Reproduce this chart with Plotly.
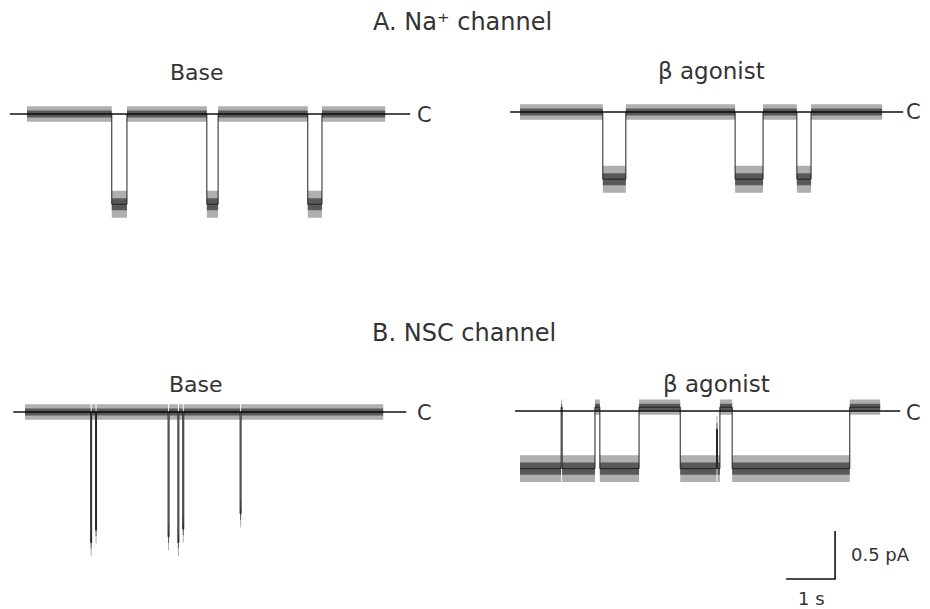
import plotly.graph_objects as go

# ---------------- data (time in s from trace start, current in pA) ----------------
# A. Na+ channel - Base : open intervals
na_base_open_start = [1.73, 3.67, 5.73]
na_base_open_end = [2.04, 3.90, 6.02]
na_base_amp = -0.94
na_base_len = 7.31

# A. Na+ channel - beta agonist
na_beta_open_start = [1.69, 4.39, 5.65]
na_beta_open_end = [2.16, 4.96, 5.94]
na_beta_amp = -0.70
na_beta_len = 7.39

# B. NSC channel - Base : brief openings
nsc_base_spike_t = [1.34, 1.44, 2.92, 3.12, 3.22, 4.39]
nsc_base_spike_amp = [-1.36, -1.23, -1.30, -1.36, -1.22, -1.06]
nsc_base_spike_dur = 0.02
nsc_base_len = 7.31

# B. NSC channel - beta agonist : state change times and level in each interval
nsc_beta_edges = [0, 0.84, 0.86, 1.53, 1.63, 2.43, 3.27, 4.01, 4.03, 4.08, 4.33, 6.73, 7.35]
nsc_beta_level = [-0.60, 0.04, -0.60, 0.04, -0.60, 0.04, -0.60, -0.19, -0.60, 0.04, -0.60, 0.04]

closed_noise = 0.08   # pA, half width of closed-state noise
open_noise = 0.14     # pA, half width of open-state noise

scale_time = 1.0      # s
scale_current = 0.5   # pA

# ---------------- layout helpers ----------------
OFF = 8                 # page body margin offset (px)
W, H = 930 - OFF, 609 - OFF
PX_PER_S = 49.0
PX_PER_PA = 96.0
TXT = "#333333"
FONT = "DejaVu Sans"


def xdom(a, b):
    return [(a - OFF) / W, (b - OFF) / W]


def ydom(top, bot):
    return [1 - (bot - OFF) / H, 1 - (top - OFF) / H]


# panel boxes (screen pixels): x0, x1, trace start px, y top, y bottom, closed level px
panels = [
    (8, 465, 27, 50, 300, 114),
    (465, 930, 520, 50, 300, 112),
    (8, 465, 25, 360, 609, 412),
    (465, 930, 520, 360, 609, 411),
]


def intervals_to_edges(starts, ends, total, amp):
    edges, levels = [0.0], []
    for s, e in zip(starts, ends):
        edges += [s, e]
        levels += [0.0, amp]
    edges.append(total)
    levels.append(0.0)
    return edges, levels


def spikes_to_edges(times, amps, dur, total):
    edges, levels = [0.0], []
    for t, a in zip(times, amps):
        edges += [t, t + dur]
        levels += [0.0, a]
    edges.append(total)
    levels.append(0.0)
    return edges, levels


def step(edges, levels):
    x, y = [], []
    for i, L in enumerate(levels):
        x += [edges[i], edges[i + 1]]
        y += [L, L]
    return x, y


def noise_of(L):
    return closed_noise if abs(L) < 0.1 else open_noise


traces_data = [
    intervals_to_edges(na_base_open_start, na_base_open_end, na_base_len, na_base_amp),
    intervals_to_edges(na_beta_open_start, na_beta_open_end, na_beta_len, na_beta_amp),
    spikes_to_edges(nsc_base_spike_t, nsc_base_spike_amp, nsc_base_spike_dur, nsc_base_len),
    (nsc_beta_edges, nsc_beta_level),
]

baseline_ext = [(-0.35, 7.82), (-0.20, 7.82), (-0.24, 7.78), (-0.10, 7.76)]

fig = go.Figure()
layout = dict(
    width=W, height=H, margin=dict(l=0, r=0, t=0, b=0),
    paper_bgcolor="white", plot_bgcolor="white", showlegend=False,
)

for i, ((x0, x1, sx, yt, yb, yc), (edges, levels), (b0, b1)) in enumerate(
        zip(panels, traces_data, baseline_ext)):
    n = "" if i == 0 else str(i + 1)
    xa, ya = "x" + n, "y" + n
    layout["xaxis" + n] = dict(domain=xdom(x0, x1),
                               range=[(x0 - sx) / PX_PER_S, (x1 - sx) / PX_PER_S],
                               visible=False, anchor=ya, fixedrange=True)
    layout["yaxis" + n] = dict(domain=ydom(yt, yb),
                               range=[(yc - yb) / PX_PER_PA, (yc - yt) / PX_PER_PA],
                               visible=False, anchor=xa, fixedrange=True)
    x, y = step(edges, levels)
    # outer noise band (fine vertical hatching imitating noise)
    up = [v + noise_of(v) for v in y]
    lo = [v - noise_of(v) for v in y]
    fig.add_trace(go.Scatter(
        x=x + x[::-1], y=up + lo[::-1], xaxis=xa, yaxis=ya, mode="lines",
        fill="toself", line=dict(width=0), fillcolor="rgba(0,0,0,0)",
        fillpattern=dict(shape="|", size=2, solidity=0.5, fgcolor="#4a4a4a",
                         bgcolor="rgba(150,150,150,0.45)"),
        hoverinfo="skip"))
    # inner dense core
    up2 = [v + 0.45 * noise_of(v) for v in y]
    lo2 = [v - 0.45 * noise_of(v) for v in y]
    fig.add_trace(go.Scatter(
        x=x + x[::-1], y=up2 + lo2[::-1], xaxis=xa, yaxis=ya, mode="lines",
        fill="toself", line=dict(width=0), fillcolor="rgba(60,60,60,0.75)",
        hoverinfo="skip"))
    # trace line
    fig.add_trace(go.Scatter(x=x, y=y, xaxis=xa, yaxis=ya, mode="lines",
                             line=dict(color="#222222", width=1), hoverinfo="skip"))
    # closed-level reference line
    fig.add_trace(go.Scatter(x=[b0, b1], y=[0, 0], xaxis=xa, yaxis=ya, mode="lines",
                             line=dict(color="#111111", width=1.3), hoverinfo="skip"))

fig.update_layout(**layout)

annotations = []


def paper_text(text, px, py, size, xanchor="center"):
    annotations.append(dict(x=(px - OFF) / W, y=1 - (py - OFF) / H, xref="paper",
                            yref="paper", text=text, showarrow=False,
                            xanchor=xanchor, yanchor="middle",
                            font=dict(family=FONT, size=size, color=TXT)))


# "C" labels
paper_text("C", 424, 115, 21)
paper_text("C", 913, 112, 21)
paper_text("C", 424, 413, 21)
paper_text("C", 913, 413, 21)

# scale bar in last panel
sb_x = 6.43
sb_y = -1.75
fig.add_trace(go.Scatter(x=[sb_x - scale_time, sb_x, sb_x],
                         y=[sb_y, sb_y, sb_y + scale_current],
                         xaxis="x4", yaxis="y4", mode="lines",
                         line=dict(color="#111111", width=1.6), hoverinfo="skip"))
paper_text("0.5 pA", 880, 554, 18)
paper_text("1 s", 811, 598, 18)

paper_text("A. Na⁺ channel", 462, 22, 24)
paper_text("B. NSC channel", 464, 333, 24)
paper_text("Base", 197, 72, 22)
paper_text("β agonist", 711, 71, 23)
paper_text("Base", 196, 384, 22)
paper_text("β agonist", 716, 384, 23)

fig.update_layout(annotations=annotations)
fig.write_html("out.html")
